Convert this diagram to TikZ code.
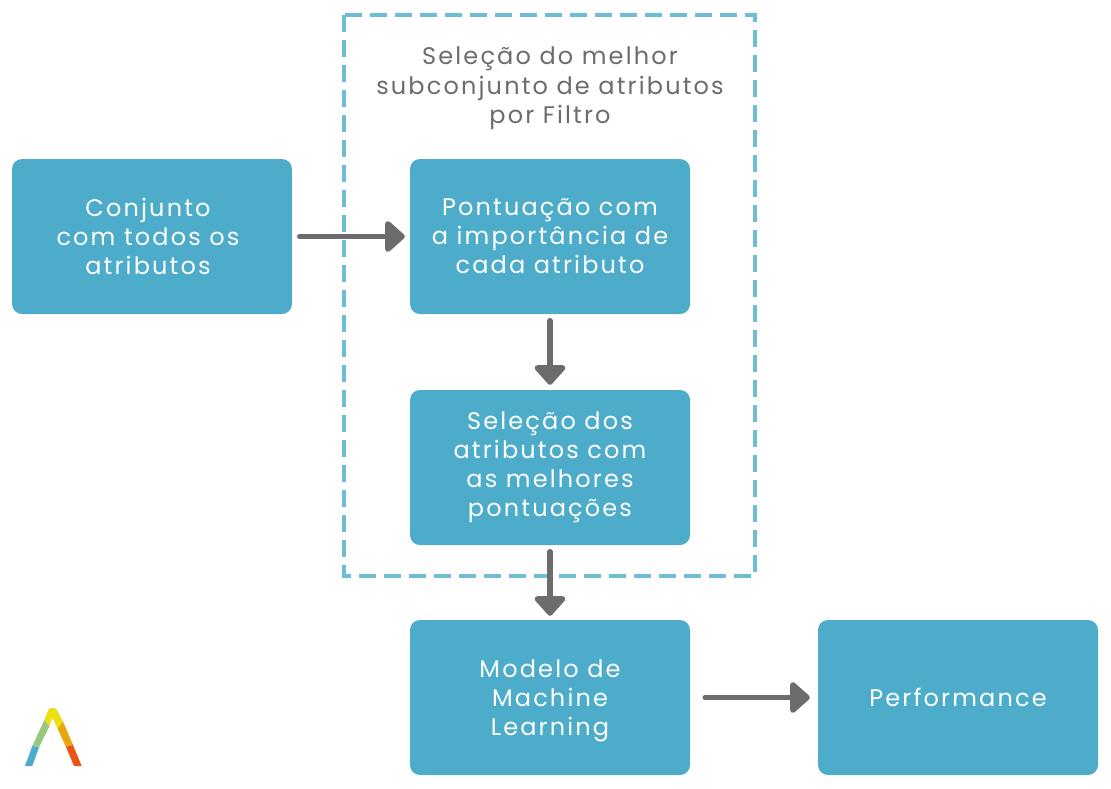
\documentclass[tikz,border=0pt]{standalone}
\usepackage{fontspec}
\setmainfont[LetterSpace=9]{Poppins}
\usetikzlibrary{arrows.meta}
\definecolor{boxblue}{HTML}{4DACC9}
\definecolor{dashblue}{HTML}{6FBDD3}
\definecolor{arrowgray}{HTML}{6C6C6C}
\definecolor{logogreen}{HTML}{95C97C}
\definecolor{logoyellow}{HTML}{EAE014}
\definecolor{logoorange}{HTML}{E9A70B}
\definecolor{logored}{HTML}{EA5316}
\tikzset{
  x=1pt,y=-1pt,
  bluebox/.style={fill=boxblue,rounded corners=10pt,minimum width=280pt,minimum height=155pt,inner sep=0pt,text=white,align=center,font=\fontsize{24}{29}\selectfont,anchor=center},
  boxtext/.style={inner sep=0pt,text=white,align=center,font=\fontsize{24}{29}\selectfont},
  conn/.style={draw=arrowgray,line width=5.5pt,line cap=round,-{Triangle[length=21pt,width=36pt,round]},shorten <=7.5pt,shorten >=5pt},
  titletext/.style={text=arrowgray,align=center,font=\fontsize{24}{29.5}\selectfont,inner sep=0pt},
}
\begin{document}
\begin{tikzpicture}
\useasboundingbox (0,0) rectangle (1111,788);
\draw[dashblue,line width=4pt,dash pattern=on 17pt off 8pt] (344,15) rectangle (755,575.5);
\node[titletext] (title) at (550,88.5) {Seleção do melhor\\subconjunto de atributos\\por Filtro};
\node[bluebox] (all) at (152,236.5) {};
\node[boxtext] (alltext) at (148,236.5) {Conjunto\\com todos os\\atributos};
\node[bluebox] (score) at (550,236.5) {Pontuação com\\a importância de\\cada atributo};
\node[bluebox] (select) at (550,467.5) {Seleção dos\\atributos com\\as melhores\\pontuações};
\node[bluebox,text depth=0pt] (model) at (550,697.5) {Modelo de\\Machine\\Learning};
\node[bluebox] (perf) at (958,697.5) {Performance};
\draw[conn] (all) -- (score);
\draw[conn,shorten <=6.5pt,shorten >=5pt] (score) -- (select);
\draw[conn,shorten <=6.5pt,shorten >=4pt] (select) -- (model);
\draw[conn,shorten <=15pt,shorten >=8pt] (model) -- (perf);
% logo
\fill[boxblue] (25,766) -- (32.3,746) -- (39.3,746.7) -- (32.3,766) -- cycle;
\fill[logogreen] (32.3,746) -- (44.3,720) -- (49.5,726) -- (39.3,746.7) -- cycle;
\fill[logoyellow] (44.3,720) -- (48.3,710) .. controls (50,707) and (55,707) .. (57,710) -- (63,721.5) -- (57.5,728.5) -- (52.3,717.5) -- (49.5,726) -- cycle;
\fill[logoorange] (63,721.5) -- (73,745) -- (66,747) -- (57.5,728.5) -- cycle;
\fill[logored] (66,747) -- (73,745) -- (81.7,766) -- (74,766) -- cycle;
\end{tikzpicture}
\end{document}
